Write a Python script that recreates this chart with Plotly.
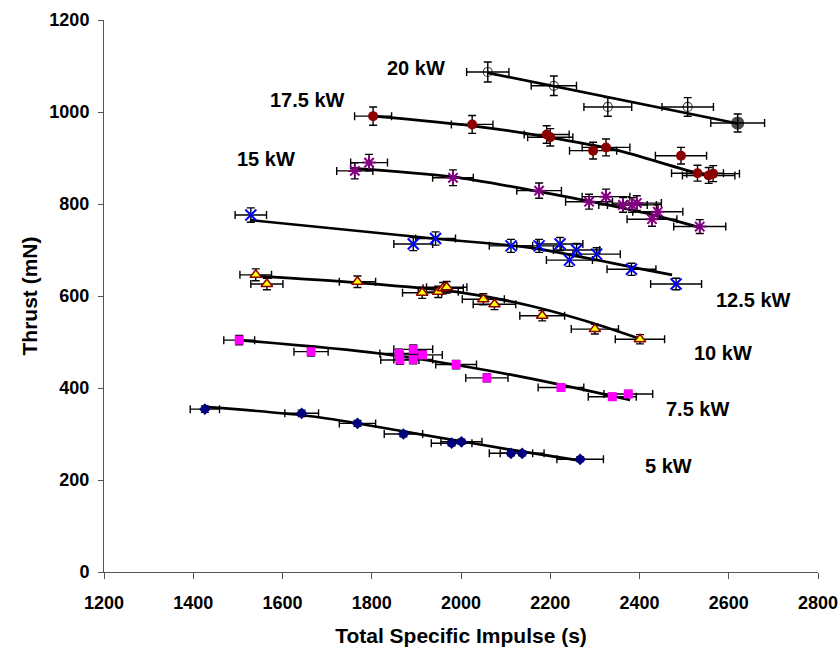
import plotly.graph_objects as go

isp_5 = [1426, 1643, 1768, 1871, 1979, 2001, 2112, 2137, 2267]
thr_5 = [354, 345, 323, 300, 280, 283, 258, 258, 245]

isp_75 = [1503, 1664, 1861, 1863, 1893, 1893, 1914, 1989, 2058, 2224, 2339, 2375]
thr_75 = [504, 479, 475, 461, 484, 462, 472, 451, 422, 401, 381, 387]

isp_10 = [1540, 1565, 1768, 1913, 1949, 1960, 1968, 2050, 2075, 2182, 2300, 2401]
thr_10 = [646, 626, 631, 607, 609, 617, 619, 593, 582, 557, 528, 506]

isp_125 = [1529, 1893, 1943, 2112, 2175, 2222, 2243, 2259, 2304, 2382, 2482]
thr_125 = [776, 713, 725, 709, 709, 713, 678, 700, 691, 658, 626]

isp_15 = [1762, 1794, 1982, 2175, 2287, 2325, 2363, 2383, 2394, 2428, 2441, 2535]
thr_15 = [872, 890, 857, 829, 805, 816, 798, 798, 802, 767, 783, 751]

isp_175 = [1803, 2025, 2192, 2200, 2296, 2325, 2493, 2530, 2555, 2565]
thr_175 = [991, 973, 951, 945, 916, 923, 905, 867, 862, 866]

isp_20 = [2060, 2208, 2329, 2508, 2620]
thr_20 = [1087, 1057, 1011, 1011, 976]

# trend lines
fit_x_5 = [1426, 1669, 1893, 2117, 2267]
fit_y_5 = [359, 338, 302, 265, 242]
fit_x_75 = [1503, 1818, 2117, 2379]
fit_y_75 = [504, 475, 428, 374]
fit_x_10 = [1542, 1766, 1990, 2150, 2289, 2401]
fit_y_10 = [643, 629, 609, 580, 543, 507]
fit_x_125 = [1527, 1938, 2161, 2423, 2473]
fit_y_125 = [765, 725, 704, 655, 646]
fit_x_15 = [1751, 1982, 2175, 2287, 2423, 2535]
fit_y_15 = [878, 859, 827, 806, 778, 749]
fit_x_175 = [1803, 2025, 2192, 2349, 2531, 2565]
fit_y_175 = [991, 970, 946, 917, 867, 863]
fit_x_20 = [2060, 2620]
fit_y_20 = [1085, 975]

labels = ["5 kW", "7.5 kW", "10 kW", "12.5 kW", "15 kW", "17.5 kW", "20 kW"]
label_x = [2464, 2531, 2587, 2656, 1563, 1655, 1899]
label_y = [230, 354, 476, 591, 898, 1026, 1096]

err_x_pct = 2.3
err_y_pct = 2.0

fig = go.Figure()

fits = [(fit_x_5, fit_y_5), (fit_x_75, fit_y_75), (fit_x_10, fit_y_10),
        (fit_x_125, fit_y_125), (fit_x_15, fit_y_15), (fit_x_175, fit_y_175),
        (fit_x_20, fit_y_20)]
for fx, fy in fits:
    fig.add_trace(go.Scatter(x=fx, y=fy, mode="lines",
                             line=dict(color="black", width=2.7, shape="spline", smoothing=0.8),
                             showlegend=False, hoverinfo="skip"))

ex = dict(type="percent", value=err_x_pct, color="black", thickness=1.4, width=4)
ey = dict(type="percent", value=err_y_pct, color="black", thickness=1.4, width=4)

series = [
    (isp_5, thr_5, dict(symbol="diamond", size=9, color="#000080")),
    (isp_75, thr_75, dict(symbol="square", size=9, color="#ff00ff")),
    (isp_10, thr_10, dict(symbol="triangle-up", size=10, color="#ffff00",
                          line=dict(color="#8b0000", width=1.5))),
    (isp_125, thr_125, dict(symbol="x-thin-open", size=11, color="#0000ff",
                            line=dict(color="#0000ff", width=2))),
    (isp_15, thr_15, dict(symbol="asterisk-open", size=11, color="#800080",
                          line=dict(color="#800080", width=2))),
    (isp_175, thr_175, dict(symbol="circle", size=10, color="#8b0000")),
    (isp_20, thr_20, dict(symbol=["circle-open"] * 4 + ["circle"], size=[9, 9, 9, 9, 12],
                          color="black", line=dict(color="black", width=1.2))),
]
for xs, ys, mk in series:
    fig.add_trace(go.Scatter(x=xs, y=ys, mode="markers", marker=mk,
                             error_x=ex, error_y=ey, showlegend=False))

for t, lx, ly in zip(labels, label_x, label_y):
    fig.add_annotation(x=lx, y=ly, text=t, showarrow=False,
                       font=dict(size=20, color="black", weight="bold"))

tick_font = dict(family="Liberation Sans, Arial, sans-serif", size=18, color="black", weight="bold")
title_font = dict(family="Liberation Sans, Arial, sans-serif", size=21, color="black", weight="bold")

fig.update_xaxes(range=[1200, 2800], dtick=200, showgrid=False, zeroline=False,
                 showline=True, linecolor="#555", linewidth=1, ticks="outside",
                 ticklen=6, tickcolor="#555", tickfont=tick_font, ticklabelstandoff=8,
                 automargin=False,
                 title=dict(text="Total Specific Impulse (s)", font=title_font, standoff=16))
fig.update_yaxes(range=[0, 1200], dtick=200, showgrid=False, zeroline=False,
                 showline=True, linecolor="#555", linewidth=1, ticks="outside",
                 ticklen=5, tickcolor="#555", tickfont=tick_font, ticklabelstandoff=5,
                 automargin=False,
                 title=dict(text="Thrust (mN)", font=title_font, standoff=6))

fig.update_layout(width=839, height=652, margin=dict(l=104, r=21, t=20, b=80),
                  plot_bgcolor="white", paper_bgcolor="white",
                  font=dict(family="Liberation Sans, Arial, sans-serif"))

# drop the default page margin so the figure fills the window exactly
fig.write_html("out.html", config={"displayModeBar": False},
               post_script="document.body.style.margin = '0';")
